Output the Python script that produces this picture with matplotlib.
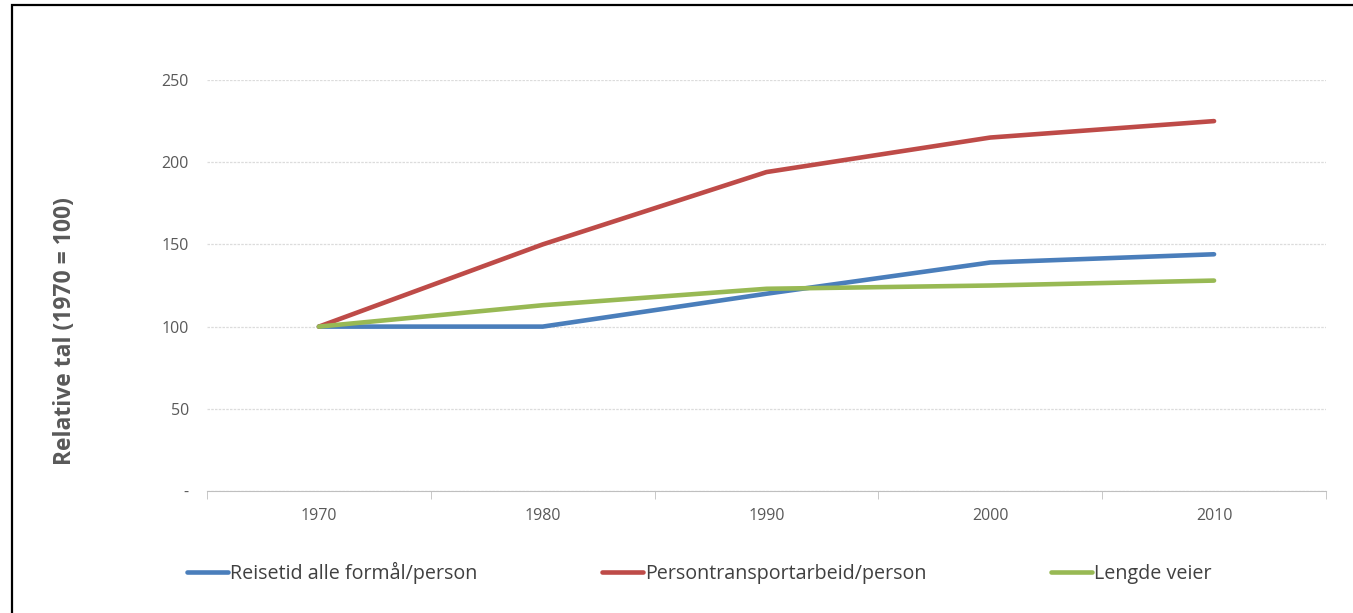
import matplotlib.pyplot as plt
from matplotlib.patches import Rectangle

years = ["1970", "1980", "1990", "2000", "2010"]
reisetid = [100, 100, 120, 139, 144]
persontransport = [100, 150, 194, 215, 225]
lengde_veier = [100, 113, 123, 125, 128]
labels = ["Reisetid alle formål/person", "Persontransportarbeid/person", "Lengde veier"]
colors = ["#4A7EBB", "#BE4B48", "#98B954"]

plt.rcParams["font.family"] = ["Open Sans", "DejaVu Sans"]

fig = plt.figure(figsize=(13.53, 6.13), dpi=100)
ax = fig.add_axes([0.153, 0.199, 0.827, 0.6705])

x = range(len(years))
for vals, lab, c in zip([reisetid, persontransport, lengde_veier], labels, colors):
    ax.plot(x, vals, color=c, lw=3.3, label=lab, solid_capstyle="round")

ax.set_xlim(-0.5, len(years) - 0.5)
ax.set_ylim(0, 250)
ax.set_yticks([0, 50, 100, 150, 200, 250])
ax.set_yticklabels(["-", "50", "100", "150", "200", "250"])
ax.set_xticks(list(x))
ax.set_xticklabels(years)
ax.set_xticks([i - 0.5 for i in range(len(years) + 1)], minor=True)

ax.grid(axis="y", color="#DCDCDC", lw=0.9, ls=(0, (2, 1)))
ax.set_axisbelow(True)
for s in ["top", "right", "left"]:
    ax.spines[s].set_visible(False)
ax.spines["bottom"].set_color("#BFBFBF")
ax.tick_params(axis="y", length=0, pad=13, labelsize=11.5, labelcolor="#595959")
ax.tick_params(axis="x", which="major", length=0, pad=12, labelsize=11.5, labelcolor="#595959")
ax.tick_params(axis="x", which="minor", length=6, color="#BFBFBF")

fig.text(0.048, 0.46, "Relative tal (1970 = 100)", rotation=90, ha="center", va="center",
         fontsize=16.5, fontweight="bold", color="#595959")

fig.legend(loc="center left", bbox_to_anchor=(0.125, 0.065), ncol=3, frameon=False,
           fontsize=14.2, handlelength=2.1, handletextpad=0.1, columnspacing=6.3,
           labelcolor="#404040")

fig.patches.append(Rectangle((0.0089, -0.02), 1.1, 0.0118 + 1.0, transform=fig.transFigure,
                             fill=False, ec="black", lw=1.6, clip_on=False))

fig.savefig("out.png", dpi=100)
